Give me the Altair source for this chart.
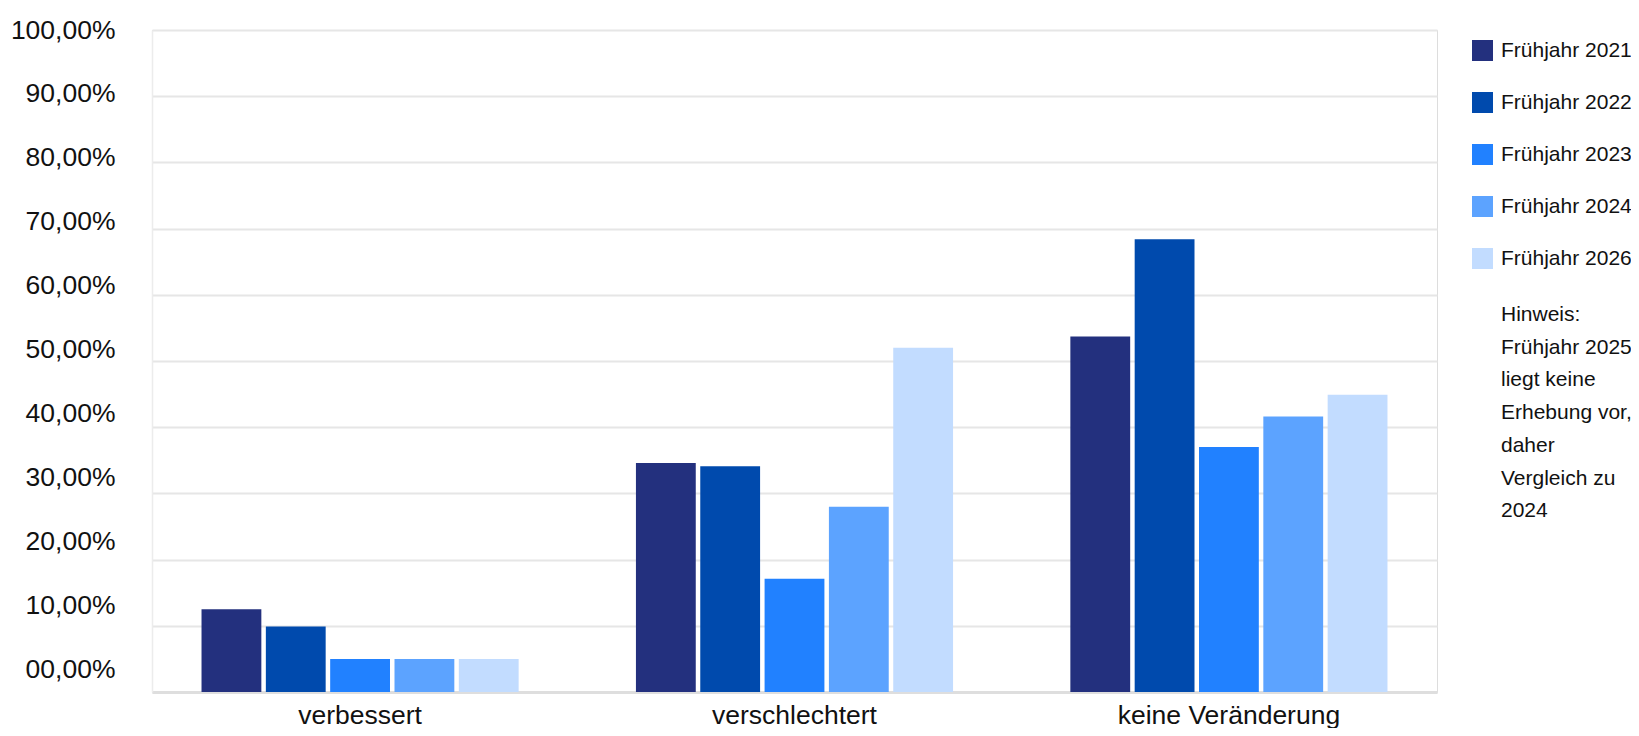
import altair as alt
import pandas as pd

categories = ["verbessert", "verschlechtert", "keine Veränderung"]
series = ["Frühjahr 2021", "Frühjahr 2022", "Frühjahr 2023", "Frühjahr 2024", "Frühjahr 2026"]
v2021 = [12.5, 34.6, 53.7]
v2022 = [9.9, 34.1, 68.4]
v2023 = [5.0, 17.1, 37.0]
v2024 = [5.0, 28.0, 41.6]
v2026 = [5.0, 52.0, 44.9]
colors = ["#23307E", "#004AAD", "#2181FF", "#5CA3FF", "#C2DCFF"]
y_ticks = [0, 10, 20, 30, 40, 50, 60, 70, 80, 90, 100]
note_lines = ["Hinweis:", "Frühjahr 2025", "liegt keine", "Erhebung vor,", "daher", "Vergleich zu", "2024"]

rows = []
for s, vals in zip(series, [v2021, v2022, v2023, v2024, v2026]):
    for c, v in zip(categories, vals):
        rows.append({"Kategorie": c, "Serie": s, "Wert": v})
df = pd.DataFrame(rows)

FONT = "Liberation Sans"

label_conds = [{"test": f"datum.value == {v}", "value": -round(0.23 * (100 - v), 1)} for v in y_ticks[:-1]]

bars = alt.Chart(df).mark_bar().encode(
    x=alt.X("Kategorie:N", sort=categories,
            scale=alt.Scale(paddingInner=0.27, paddingOuter=0.114),
            axis=alt.Axis(title=None, labelAngle=0, labelFontSize=26.5, labelFont=FONT,
                          labelColor="#111111", labelPadding=10, ticks=False, labelLimit=600,
                          domain=True, domainColor="#dedede", domainWidth=3)),
    xOffset=alt.XOffset("Serie:N", sort=series,
                        scale=alt.Scale(paddingInner=0.07, paddingOuter=0)),
    y=alt.Y("Wert:Q", scale=alt.Scale(domain=[0, 100], nice=False),
            axis=alt.Axis(values=y_ticks, title=None, ticks=False,
                          labelExpr="datum.value == 0 ? '00,00%' : replace(format(datum.value, '.2f'), '.', ',') + '%'",
                          labelFontSize=26.5, labelFont=FONT, labelColor="#111111",
                          labelPadding=37, labelOffset={"condition": label_conds, "value": 0},
                          domain=True, domainColor="#ececec", domainWidth=1.5,
                          grid=True, gridColor="#e6e6e6", gridWidth=2)),
    color=alt.Color("Serie:N", sort=series,
                    scale=alt.Scale(domain=series, range=colors),
                    legend=alt.Legend(title=None, orient="none", legendX=1320, legendY=10,
                                      symbolType="square", symbolSize=441, symbolStrokeWidth=0,
                                      symbolOpacity=1, labelFontSize=21, labelFont=FONT,
                                      labelColor="#111111", labelOffset=8, rowPadding=30,
                                      padding=0, labelLimit=300)),
)

note = alt.Chart(pd.DataFrame({"note": ["\n".join(note_lines)]})).mark_text(
    align="left", baseline="top", fontSize=21, font=FONT, color="#111111",
    lineBreak="\n", lineHeight=32.7,
).encode(
    text="note:N",
    x=alt.value(1349),
    y=alt.value(274),
)

chart = alt.layer(bars, note).properties(
    width=1285, height=662,
    autosize=alt.AutoSizeParams(type="none"),
    padding={"left": 144, "top": 22, "right": 194, "bottom": 36},
).configure_view(stroke=None).configure(background="white")

chart.save("out.html", embed_options={"renderer": "svg", "actions": False})
